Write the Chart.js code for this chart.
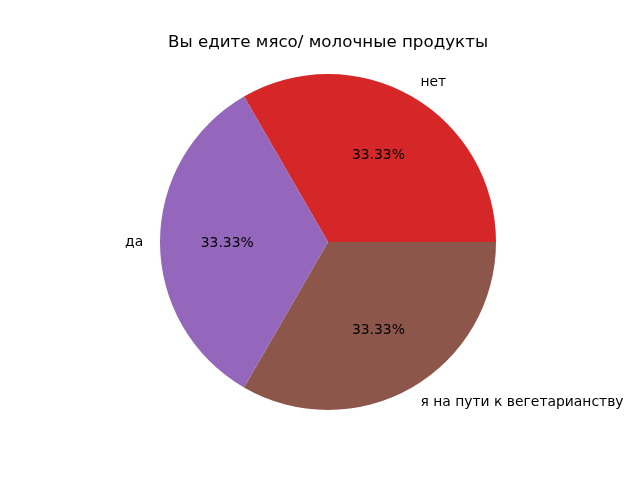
<!DOCTYPE html>
<html>
<head>
<meta charset="utf-8">
<script src="https://cdn.jsdelivr.net/npm/chart.js@4"></script>
<style>
    html, body { margin: 0; padding: 0; background: #fff; }
    #wrap { width: 640px; height: 480px; }
</style>
</head>
<body>
<div id="wrap"><canvas id="pie" width="640" height="480"></canvas></div>
<script>
// clockwise order, starting at the top-left edge of the red slice
const labels = ['нет', 'я на пути к вегетарианству', 'да'];
const values = [1, 1, 1];
const colors = ['#d62728', '#8c564b', '#9467bd'];
const chartTitle = 'Вы едите мясо/ молочные продукты';

const FONT = '"DejaVu Sans", sans-serif';

const pieText = {
    id: 'pieText',
    afterDatasetsDraw(chart) {
        const ctx = chart.ctx;
        const meta = chart.getDatasetMeta(0);
        const total = values.reduce((a, b) => a + b, 0);
        ctx.save();
        ctx.fillStyle = '#000';
        ctx.font = '13.9px ' + FONT;
        ctx.textBaseline = 'middle';
        meta.data.forEach((arc, i) => {
            const mid = (arc.startAngle + arc.endAngle) / 2;
            const r = arc.outerRadius;
            const cx = Math.cos(mid), cy = Math.sin(mid);
            // percentage inside
            ctx.textAlign = 'center';
            const pct = (values[i] / total * 100).toFixed(2) + '%';
            ctx.fillText(pct, arc.x + cx * r * 0.6, arc.y + cy * r * 0.6 + 1);
            // label outside
            ctx.textAlign = cx > 0.001 ? 'left' : (cx < -0.001 ? 'right' : 'center');
            ctx.fillText(labels[i], arc.x + cx * r * 1.1, arc.y + cy * r * 1.1 + 0.5);
        });
        // title
        ctx.font = '16.7px ' + FONT;
        ctx.textAlign = 'center';
        ctx.fillText(chartTitle, 328, 43);
        ctx.restore();
    }
};

new Chart(document.getElementById('pie').getContext('2d'), {
    type: 'pie',
    data: {
        labels: labels,
        datasets: [{
            data: values,
            backgroundColor: colors,
            borderWidth: 0
        }]
    },
    options: {
        responsive: false,
        animation: false,
        rotation: -30,
        layout: { padding: { left: 16, right: 0, top: 74, bottom: 70 } },
        plugins: {
            legend: { display: false },
            title: { display: false },
            tooltip: { enabled: false }
        }
    },
    plugins: [pieText]
});
</script>
</body>
</html>
